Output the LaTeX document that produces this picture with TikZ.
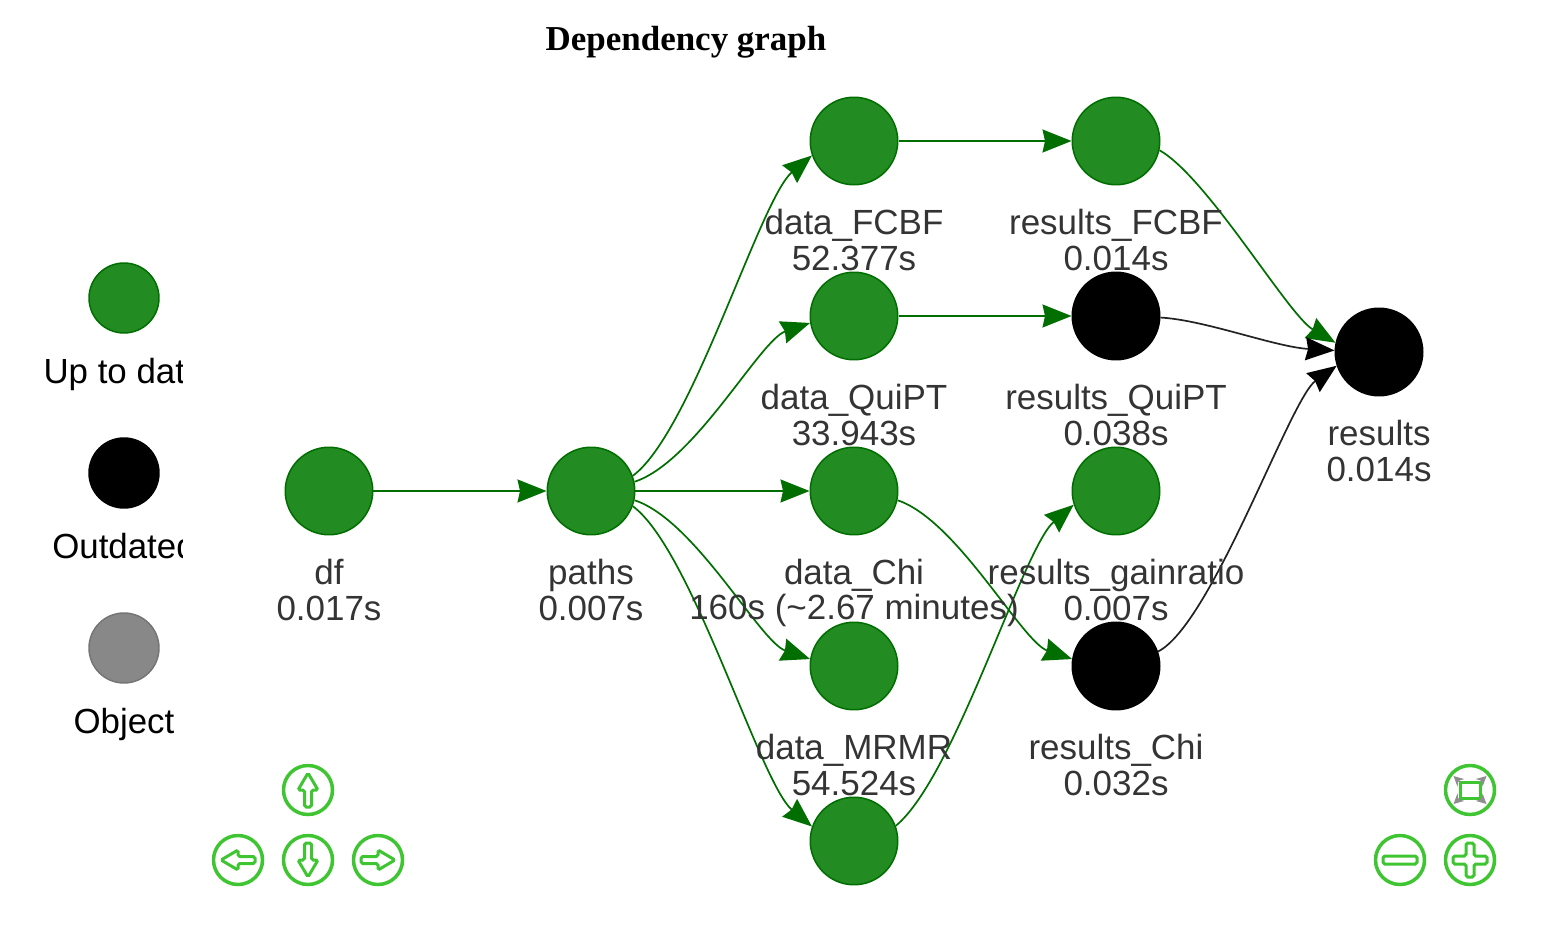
\documentclass[tikz,border=0pt]{standalone}
\usepackage{fontspec}
\setmainfont{Liberation Sans}
\newfontfamily\titlefont{Liberation Serif}
\usetikzlibrary{arrows.meta}
\definecolor{donefill}{HTML}{228B22}
\definecolor{doneborder}{HTML}{006E00}
\definecolor{objfill}{HTML}{888888}
\definecolor{objborder}{HTML}{757575}
\definecolor{labelgray}{HTML}{343434}
\definecolor{edgegray}{HTML}{222222}
\definecolor{navgreen}{HTML}{3FC532}
\definecolor{navgray}{HTML}{8E8E8E}
\tikzset{
  target/.style={circle, inner sep=0pt, minimum size=1.75cm, line width=0.03cm},
  uptodate/.style={target, fill=donefill, draw=doneborder},
  outdated/.style={target, fill=black, draw=black},
  legenddone/.style={uptodate, minimum size=1.4cm},
  legendold/.style={outdated, minimum size=1.4cm},
  legendobj/.style={target, fill=objfill, draw=objborder, minimum size=1.4cm},
  stats/.style={align=center, text=labelgray, inner sep=0pt, font=\fontsize{19.9pt}{20pt}\selectfont},
  legendtext/.style={text=black, inner sep=0pt, font=\fontsize{19.84pt}{19.84pt}\selectfont},
  flow/.style={-{Stealth[length=0.58cm, width=0.46cm, inset=0.05cm]}, line width=0.034cm, draw=doneborder},
  staleflow/.style={flow, draw=edgegray, -{Stealth[length=0.58cm, width=0.46cm, inset=0.05cm, black]}},
  navbutton/.style={circle, inner sep=0pt, minimum size=0.98cm, draw=navgreen, line width=0.07cm},
  navline/.style={draw=navgreen, line width=0.06cm, rounded corners=1pt},
  navarrow/.pic={
    \draw[navline] (0,-17) -- (10,0) -- (3.5,0) -- (3.5,17) -- (-3.5,17) -- (-3.5,0) -- (-10,0) -- cycle;
  }
}

\begin{document}
\begin{tikzpicture}[x=0.02cm, y=-0.02cm]
\useasboundingbox (0,0) rectangle (1548,932);

\node[font=\titlefont\bfseries\fontsize{19.9pt}{19.9pt}\selectfont, inner sep=0pt] (title) at (686,42) {Dependency graph};

% legend, cut off at the right
\begin{scope}
\clip (0,250) rectangle (182,750);
\node[legenddone] (legendup) at (124,298) {};
\node[legendold] (legendout) at (124,473) {};
\node[legendobj] (legendobject) at (124,648) {};
\node[legendtext] (legenduptext) at (124,374) {Up to date};
\node[legendtext] (legendouttext) at (124,546) {Outdated};
\node[legendtext] (legendobjecttext) at (124,724) {Object};
\end{scope}

\node[uptodate] (df) at (329,491) {};
\node[uptodate] (paths) at (591,491) {};
\node[uptodate] (dataFCBF) at (854,141) {};
\node[uptodate] (dataQuiPT) at (854,316) {};
\node[uptodate] (dataChi) at (854,491) {};
\node[uptodate] (dataMRMR) at (854,666) {};
\node[uptodate] (dataGain) at (854,841) {};
\node[uptodate] (resFCBF) at (1116,141) {};
\node[outdated] (resQuiPT) at (1116,316) {};
\node[uptodate] (resGain) at (1116,491) {};
\node[outdated] (resChi) at (1116,666) {};
\node[outdated] (results) at (1379,352) {};

\draw[flow] (df) -- (paths);
\draw[flow] (paths) -- (dataChi);
\draw[flow] (dataFCBF) -- (resFCBF);
\draw[flow] (dataQuiPT) -- (resQuiPT);
\draw[flow] (paths.20) .. controls (692,432) and (760,199) .. (dataFCBF.199);
\draw[flow] (paths.12) .. controls (695,462) and (760,340) .. (dataQuiPT.189);
\draw[flow] (paths.-12) .. controls (695,520) and (760,642) .. (dataMRMR.171);
\draw[flow] (paths.-20) .. controls (692,550) and (760,783) .. (dataGain.161);
\draw[flow] (dataChi.-12) .. controls (957,520) and (1022,642) .. (resChi.171);
\draw[flow] (dataGain.20) .. controls (955,777) and (1023,548) .. (resGain.198);
\draw[flow] (resFCBF.-12) .. controls (1208,178) and (1288,315) .. (results.168);
\draw[staleflow] (resQuiPT.-2) .. controls (1205,320) and (1275,347) .. (results.178);
\draw[staleflow] (resChi.19) .. controls (1212,624) and (1290,399) .. (results.198);

\node[stats] (dflabel) at (329,590) {df\\0.017s};
\node[stats] (pathslabel) at (591,590) {paths\\0.007s};
\node[stats] (dataFCBFlabel) at (854,240) {data\_FCBF\\52.377s};
\node[stats] (dataQuiPTlabel) at (854,415) {data\_QuiPT\\33.943s};
\node[stats] (dataChilabel) at (854,593) {data\_Chi\\160s (\textasciitilde2.67 minutes)};
\node[stats] (dataMRMRlabel) at (854,765) {data\_MRMR\\54.524s};
\node[stats] (resFCBFlabel) at (1116,240) {results\_FCBF\\0.014s};
\node[stats] (resQuiPTlabel) at (1116,415) {results\_QuiPT\\0.038s};
\node[stats] (resGainlabel) at (1116,590) {results\_gainratio\\0.007s};
\node[stats] (resChilabel) at (1116,765) {results\_Chi\\0.032s};
\node[stats] (resultslabel) at (1379,451) {results\\0.014s};

% navigation buttons
\foreach \name/\x/\y/\turn in {navup/308/790/0,navleft/238/860/90,navdown/308/860/180,navright/378/860/270} {
  \node[navbutton] (\name) at (\x,\y) {};
  \pic[rotate=\turn] at (\name) {navarrow};
}
\node[navbutton] (navfit) at (1470,790) {};
\node[navbutton] (navminus) at (1400,860) {};
\node[navbutton] (navplus) at (1470,860) {};

\draw[navline] (1383,856) rectangle (1417,864);
\draw[navline] (1466,843) -- (1474,843) -- (1474,856) -- (1487,856) -- (1487,864) -- (1474,864) -- (1474,877) -- (1466,877) -- (1466,864) -- (1453,864) -- (1453,856) -- (1466,856) -- cycle;
\draw[navline, rounded corners=0pt] (1460,782) rectangle (1480,798);
\foreach \sx/\sy in {-1/-1,1/-1,-1/1,1/1} {
  \draw[navgray, line width=0.03cm, -{Stealth[length=0.2cm, width=0.2cm]}] (1470+\sx*10,790+\sy*8) -- (1470+\sx*16.5,790+\sy*14);
}

\end{tikzpicture}
\end{document}
